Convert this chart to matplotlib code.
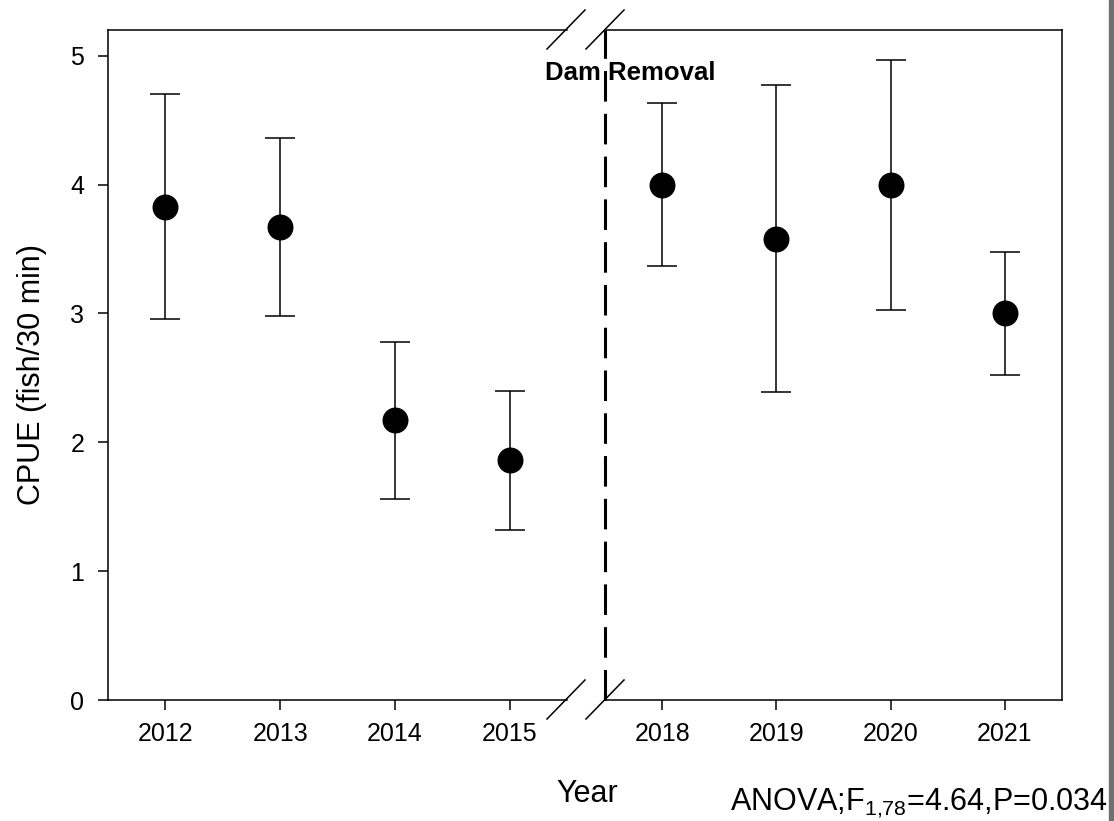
import matplotlib
matplotlib.use("Agg")
import matplotlib.pyplot as plt
from matplotlib.lines import Line2D
from matplotlib.patches import Rectangle

plt.rcParams['font.family'] = ['Liberation Sans', 'DejaVu Sans']
plt.rcParams['mathtext.fontset'] = 'custom'
plt.rcParams['mathtext.rm'] = 'Liberation Sans'

# values (mean +/- error)
years_pre = [2012, 2013, 2014, 2015]
cpue_pre = [3.83, 3.67, 2.17, 1.86]
err_pre = [0.87, 0.69, 0.61, 0.54]
years_post = [2018, 2019, 2020, 2021]
cpue_post = [4.00, 3.58, 4.00, 3.00]
err_post = [0.63, 1.19, 0.97, 0.48]

W, H = 1114, 821
def fx(px):
    return px / W
def fy(py):
    return 1 - py / H

fig = plt.figure(figsize=(W / 100, H / 100), dpi=100)
ax1 = fig.add_axes([fx(108), fy(700), (567 - 108) / W, 670 / H])
ax2 = fig.add_axes([fx(605), fy(700), (1062 - 605) / W, 670 / H])

for ax, yrs, vals, errs in [(ax1, years_pre, cpue_pre, err_pre),
                            (ax2, years_post, cpue_post, err_post)]:
    ax.errorbar(yrs, vals, yerr=errs, fmt='none', ecolor='black',
                capsize=10.5, elinewidth=1.1, capthick=1.1)
    ax.plot(yrs, vals, 'o', color='black', ms=18.7, mew=0, zorder=3)
    ax.set_xlim(yrs[0] - 0.5, yrs[-1] + 0.5)
    ax.set_ylim(0, 5.2)
    ax.set_xticks(yrs)
    ax.tick_params(axis='x', direction='out', length=7, width=1.1,
                   labelsize=18, pad=9)
    for s in ax.spines.values():
        s.set_linewidth(1.1)

ax1.set_yticks(range(6))
ax1.tick_params(axis='y', direction='out', length=7, width=1.1,
                labelsize=18, pad=10)
ax1.spines['right'].set_visible(False)
ax2.spines['left'].set_visible(False)
ax2.set_yticks([])

# dam removal line
ax2.axvline(2017.5, color='black', lw=2.2, linestyle=(0, (10, 4)),
            clip_on=False)
fig.text(fx(630), fy(80), 'Dam Removal', ha='center', va='baseline',
         fontsize=18.5, fontweight='bold')

# break marks
for y0 in [30, 700]:
    for x0 in [566, 605]:
        fig.add_artist(Line2D([fx(x0 - 19), fx(x0 + 19)],
                              [fy(y0 + 19), fy(y0 - 20)],
                              color='black', lw=1.1))

fig.text(fx(32), fy(374), 'CPUE (fish/30 min)', rotation=90,
         ha='center', va='center', fontsize=22)
fig.text(fx(587), fy(794), 'Year', ha='center', va='center', fontsize=22)
fig.text(fx(1108), fy(810), r'ANOVA;F$_\mathregular{1{,}78}$=4.64,P=0.034',
         ha='right', va='baseline', fontsize=22)

fig.patches.append(Rectangle((fx(1109), 0), 5 / W, 1,
                             transform=fig.transFigure, color='#707070'))

fig.savefig('out.png', dpi=100)
